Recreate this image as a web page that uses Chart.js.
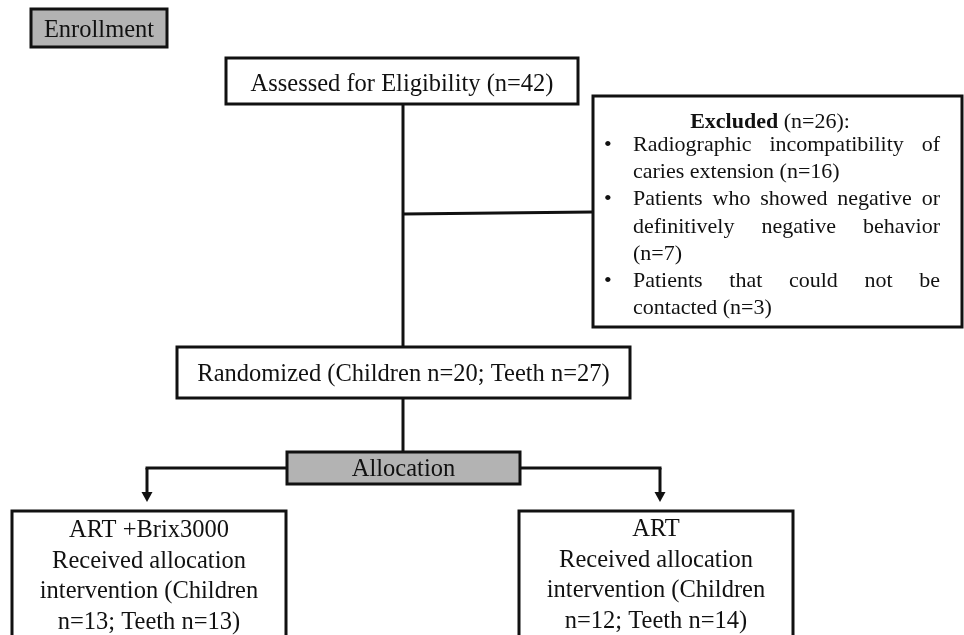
<!DOCTYPE html>
<html>
<head>
<meta charset="utf-8">
<script src="https://cdn.jsdelivr.net/npm/chart.js@4"></script>
<style>
  html, body { margin: 0; padding: 0; background: #fff; }
  #flow { display: block; }
  .warm { position: absolute; left: -999px; top: 0; font-family: "Liberation Serif"; }
</style>
</head>
<body>
<span class="warm">Warm <b>Bold</b></span>
<canvas id="flow" width="964" height="635"></canvas>
<script>
// ---- data ----
const assessedN = 42;
const excludedN = 26;
const exclusionReasons = [
    'Radiographic incompatibility of caries extension',
    'Patients who showed negative or definitively negative behavior',
    'Patients that could not be contacted'
];
const exclusionCounts = [16, 7, 3];
const randomizedChildren = 20;
const randomizedTeeth = 27;
const groupNames = ['ART +Brix3000', 'ART'];
const groupChildren = [13, 12];
const groupTeeth = [13, 14];

// ---- layout (in canvas units, mapped through the scales) ----
const layout = {
    enrollment: { x: 31, y: 9, w: 136, h: 38, base: 37 },
    assessed:   { x: 226, y: 58, w: 352, h: 46, base: 91 },
    excluded:   { x: 593, y: 96, w: 369, h: 231 },
    randomized: { x: 177, y: 347, w: 453, h: 51, base: 381 },
    allocation: { x: 287, y: 452, w: 233, h: 32, base: 476 },
    groups: [
        { x: 12, y: 511, w: 274, h: 150, arm: 147, base: 537 },
        { x: 519, y: 511, w: 274, h: 150, arm: 660, base: 536 }
    ],
    spineX: 403,
    excludeY: 213,
    splitY: 468,
    arrowTip: 502
};

const SERIF = '"Liberation Serif", "Times New Roman", Times, serif';
const INK = '#111';
const GREY = '#b3b3b3';
const BIG = 24.5;   // box titles and group boxes
const SMALL = 22;   // exclusion list

function wrap(ctx, text, maxW) {
    const words = text.split(' ');
    const lines = [];
    let cur = '';
    words.forEach(w => {
        const test = cur ? cur + ' ' + w : w;
        if (cur && ctx.measureText(test).width > maxW) {
            lines.push(cur);
            cur = w;
        } else {
            cur = test;
        }
    });
    if (cur) lines.push(cur);
    return lines;
}

function justify(ctx, line, x0, x1, y) {
    const words = line.split(' ');
    if (words.length < 2) { ctx.fillText(line, x0, y); return; }
    const total = words.reduce((s, w) => s + ctx.measureText(w).width, 0);
    const gap = (x1 - x0 - total) / (words.length - 1);
    let x = x0;
    words.forEach(w => {
        ctx.fillText(w, x, y);
        x += ctx.measureText(w).width + gap;
    });
}

const flowPlugin = {
    id: 'flow',
    afterDraw(chart) {
        const ctx = chart.ctx;
        const xs = chart.scales.x, ys = chart.scales.y;
        const px = v => xs.getPixelForValue(v);
        const py = v => ys.getPixelForValue(v);

        function box(b, fill) {
            const x = px(b.x), y = py(b.y);
            const w = px(b.x + b.w) - x, h = py(b.y + b.h) - y;
            ctx.fillStyle = fill;
            ctx.fillRect(x, y, w, h);
            ctx.lineWidth = 3;
            ctx.strokeStyle = INK;
            ctx.strokeRect(x, y, w, h);
        }
        function seg(x1, y1, x2, y2) {
            ctx.beginPath();
            ctx.moveTo(px(x1), py(y1));
            ctx.lineTo(px(x2), py(y2));
            ctx.stroke();
        }
        function centered(text, b, base, size) {
            ctx.font = size + 'px ' + SERIF;
            ctx.fillStyle = INK;
            ctx.textAlign = 'center';
            ctx.textBaseline = 'alphabetic';
            ctx.fillText(text, px(b.x + b.w / 2), py(base));
        }

        ctx.save();
        ctx.fillStyle = '#fff';
        ctx.fillRect(0, 0, chart.width, chart.height);

        // connectors
        ctx.lineWidth = 3;
        ctx.strokeStyle = INK;
        ctx.lineCap = 'butt';
        const L = layout;
        seg(L.spineX, L.assessed.y + L.assessed.h, L.spineX, L.randomized.y);
        seg(L.spineX, L.excludeY + 1, L.excluded.x, L.excludeY - 1);
        seg(L.spineX, L.randomized.y + L.randomized.h, L.spineX, L.allocation.y);
        seg(L.groups[0].arm - 1.5, L.splitY, L.groups[1].arm + 1.5, L.splitY);
        L.groups.forEach(g => {
            seg(g.arm, L.splitY, g.arm, L.arrowTip - 8);
            ctx.beginPath();
            ctx.moveTo(px(g.arm - 5.5), py(L.arrowTip - 10));
            ctx.lineTo(px(g.arm + 5.5), py(L.arrowTip - 10));
            ctx.lineTo(px(g.arm), py(L.arrowTip));
            ctx.closePath();
            ctx.fillStyle = INK;
            ctx.fill();
        });

        // boxes
        box(L.enrollment, GREY);
        centered('Enrollment', L.enrollment, L.enrollment.base, BIG);

        box(L.assessed, '#fff');
        centered(`Assessed for Eligibility (n=${assessedN})`, L.assessed, L.assessed.base, BIG);

        box(L.randomized, '#fff');
        centered(`Randomized (Children n=${randomizedChildren}; Teeth n=${randomizedTeeth})`,
            L.randomized, L.randomized.base, BIG);

        box(L.allocation, GREY);
        centered('Allocation', L.allocation, L.allocation.base, BIG);

        // excluded box
        box(L.excluded, '#fff');
        const fs = SMALL;
        const textL = 633, textR = 940, bulletX = 604, headMid = 770;
        const headBase = 128, firstBase = 151, lineH = 27.2;
        ctx.fillStyle = INK;
        ctx.textBaseline = 'alphabetic';
        ctx.textAlign = 'left';
        ctx.font = 'bold ' + fs + 'px ' + SERIF;
        const headA = 'Excluded';
        const headB = ` (n=${excludedN}):`;
        const wA = ctx.measureText(headA).width;
        ctx.font = fs + 'px ' + SERIF;
        const wB = ctx.measureText(headB).width;
        const hx = px(headMid) - (wA + wB) / 2;
        ctx.font = 'bold ' + fs + 'px ' + SERIF;
        ctx.fillText(headA, hx, py(headBase));
        ctx.font = fs + 'px ' + SERIF;
        ctx.fillText(headB, hx + wA, py(headBase));

        let row = 0;
        exclusionReasons.forEach((r, i) => {
            const lines = wrap(ctx, `${r} (n=${exclusionCounts[i]})`, textR - textL);
            lines.forEach((ln, j) => {
                const y = py(firstBase + row * lineH);
                if (j === 0) ctx.fillText('\u2022', px(bulletX), y);
                if (j < lines.length - 1) justify(ctx, ln, px(textL), px(textR), y);
                else ctx.fillText(ln, px(textL), y);
                row++;
            });
        });

        // group boxes
        L.groups.forEach((g, i) => {
            box(g, '#fff');
            ctx.font = BIG + 'px ' + SERIF;
            const body = wrap(ctx,
                `Received allocation intervention (Children n=${groupChildren[i]}; Teeth n=${groupTeeth[i]})`, 250);
            [groupNames[i]].concat(body).forEach((ln, j) => {
                centered(ln, g, g.base + j * 30.5, BIG);
            });
        });
        ctx.restore();
    }
};

function build() {
    new Chart(document.getElementById('flow'), {
        type: 'scatter',
        data: { datasets: [{ data: [], pointRadius: 0 }] },
        options: {
            responsive: false,
            animation: false,
            devicePixelRatio: 1,
            layout: { padding: 0 },
            plugins: { legend: { display: false }, tooltip: { enabled: false } },
            scales: {
                x: { type: 'linear', min: 0, max: 964, display: false },
                y: { type: 'linear', min: 0, max: 635, reverse: true, display: false }
            }
        },
        plugins: [flowPlugin]
    });
}

Promise.all([
    document.fonts.load('24px "Liberation Serif"'),
    document.fonts.load('bold 22px "Liberation Serif"')
]).then(build, build);
</script>
</body>
</html>
